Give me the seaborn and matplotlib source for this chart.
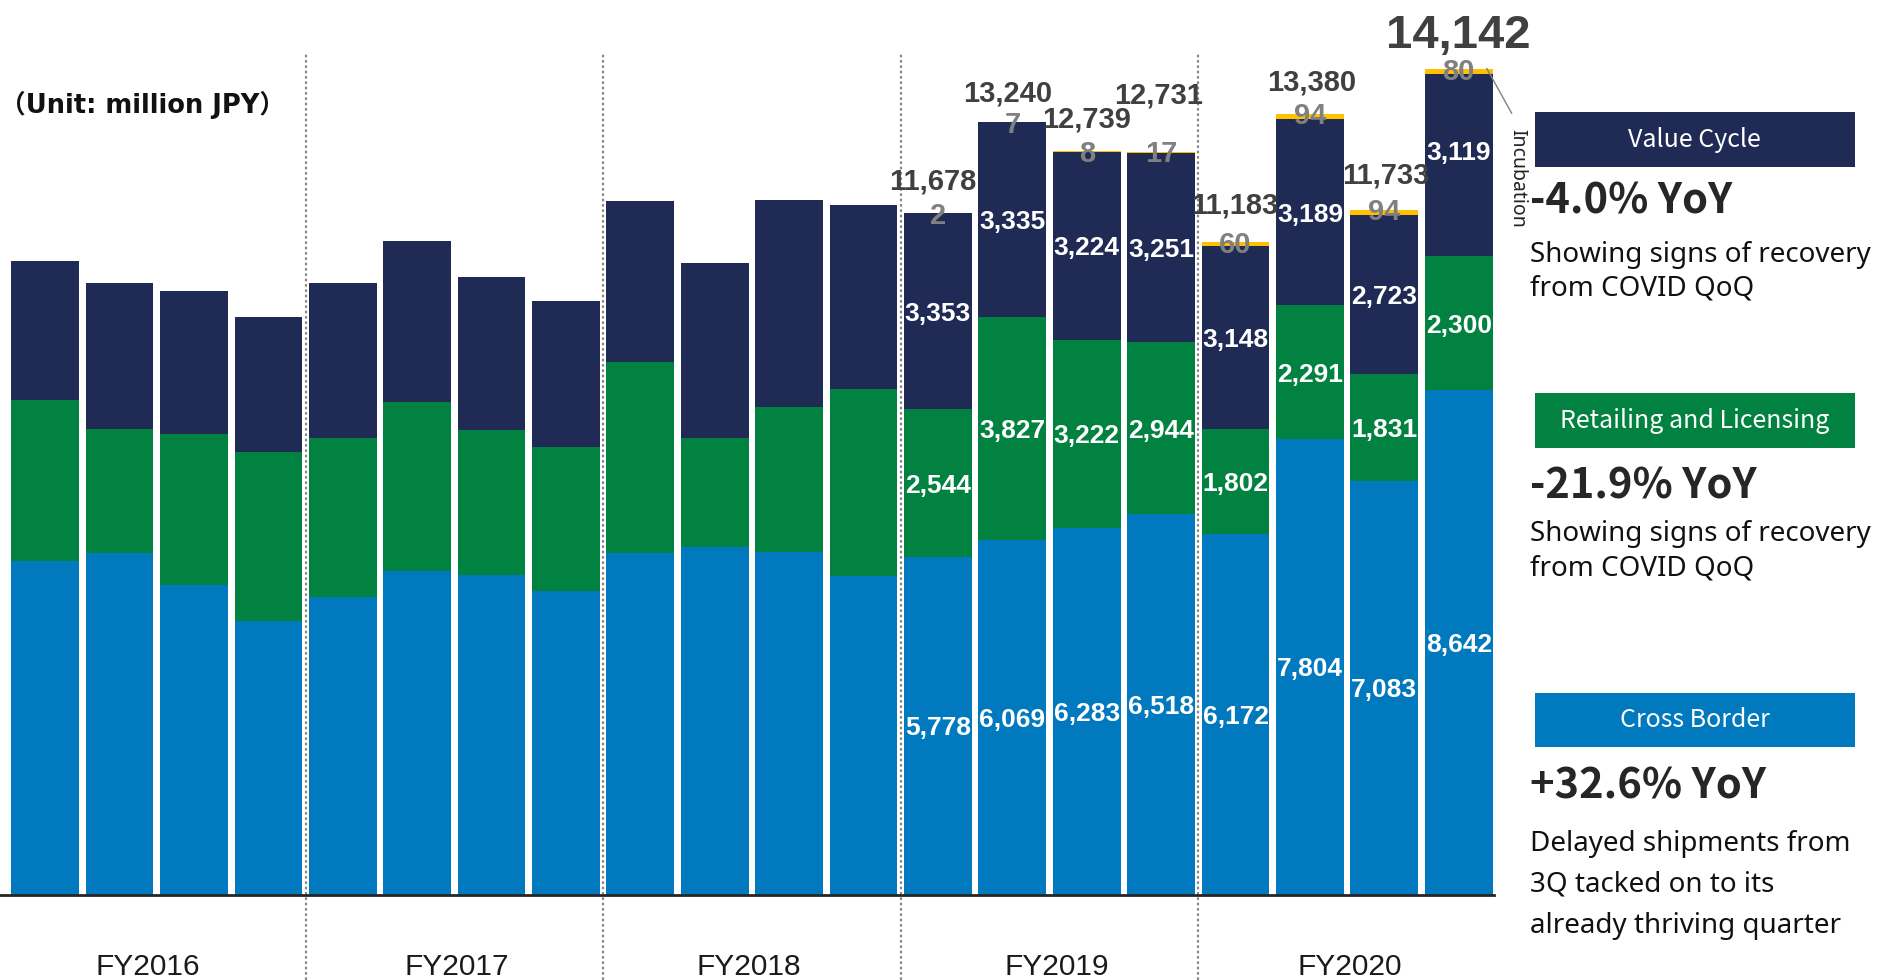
import numpy as np
import pandas as pd
import matplotlib
matplotlib.use("Agg")
import matplotlib.pyplot as plt
import seaborn as sns
from matplotlib.patches import Rectangle
from matplotlib.lines import Line2D
from matplotlib.transforms import Affine2D, ScaledTranslation

# ---------------- data ----------------
fiscal_years = ["FY2016", "FY2017", "FY2018", "FY2019", "FY2020"]
quarters = ["FY2016 Q1", "FY2016 Q2", "FY2016 Q3", "FY2016 Q4",
            "FY2017 Q1", "FY2017 Q2", "FY2017 Q3", "FY2017 Q4",
            "FY2018 Q1", "FY2018 Q2", "FY2018 Q3", "FY2018 Q4",
            "FY2019 Q1", "FY2019 Q2", "FY2019 Q3", "FY2019 Q4",
            "FY2020 Q1", "FY2020 Q2", "FY2020 Q3", "FY2020 Q4"]
cross_border = [5724, 5856, 5308, 4691, 5107, 5541, 5479, 5205, 5861, 5959,
                5878, 5455, 5778, 6069, 6283, 6518, 6172, 7804, 7083, 8642]
retailing = [2754, 2125, 2588, 2884, 2713, 2908, 2485, 2468, 3273, 1856,
             2480, 3212, 2544, 3827, 3222, 2944, 1802, 2291, 1831, 2300]
value_cycle = [2382, 2502, 2439, 2326, 2668, 2747, 2617, 2497, 2747, 3004,
               3536, 3153, 3353, 3335, 3224, 3251, 3148, 3189, 2723, 3119]
incubation = [0, 0, 0, 0, 0, 0, 0, 0, 3, 0,
              0, 3, 2, 7, 8, 17, 60, 94, 94, 80]
labelled_quarters = ["FY2019 Q1", "FY2019 Q2", "FY2019 Q3", "FY2019 Q4",
                     "FY2020 Q1", "FY2020 Q2", "FY2020 Q3", "FY2020 Q4"]
total_labels = ["11,678", "13,240", "12,739", "12,731",
                "11,183", "13,380", "11,733", "14,142"]
segment_names = ["Cross Border", "Retailing and Licensing", "Value Cycle", "Incubation"]
panel_segments = ["Value Cycle", "Retailing and Licensing", "Cross Border"]
panel_yoy = ["-4.0% YoY", "-21.9% YoY", "+32.6% YoY"]
panel_comments = [["Showing signs of recovery", "from COVID QoQ"],
                  ["Showing signs of recovery", "from COVID QoQ"],
                  ["Delayed shipments from", "3Q tacked on to its", "already thriving quarter"]]
unit_label = "（Unit: million JPY）"

# ---------------- style ----------------
colors = {"Cross Border": "#0079BE", "Retailing and Licensing": "#028240",
          "Value Cycle": "#1F2B55", "Incubation": "#FFC000"}
sns.set_theme(style="white")
plt.rcParams["font.family"] = ["Liberation Sans", "DejaVu Sans"]
CJK = ["Noto Sans CJK JP", "DejaVu Sans"]
LAT = ["Noto Sans", "DejaVu Sans"]

W, H = 1886, 980
fig = plt.figure(figsize=(W / 100, H / 100), dpi=100)
pix = Affine2D().scale(1 / W, -1 / H).translate(0, 1) + fig.transFigure

base_px = 894.5
px_per_unit = 0.05835
ax = fig.add_axes([0, (H - base_px) / H, 1494 / W, base_px / H])
ax.patch.set_alpha(0)

layers = [cross_border, retailing, value_cycle, incubation]
n = len(quarters)
bottom = np.zeros(n)
bottoms = []
for name, vals in zip(segment_names, layers):
    bottoms.append(bottom.copy())
    sns.barplot(x=quarters, y=vals, order=quarters, bottom=bottom,
                color=colors[name], saturation=1, width=0.91,
                errorbar=None, linewidth=0, ax=ax)
    bottom = bottom + np.array(vals, dtype=float)
totals = bottom

ax.set_xlim(-0.607, 19.474)
ax.set_ylim(0, base_px / px_per_unit)
ax.set_xticks([])
ax.set_yticks([])
ax.set_xlabel("")
ax.set_ylabel("")
for s in ["top", "right", "left"]:
    ax.spines[s].set_visible(False)
ax.spines["bottom"].set_color("#262626")
ax.spines["bottom"].set_linewidth(2)
ax.spines["bottom"].set_zorder(5)

# dotted separators between fiscal years
ax.vlines([3.5, 7.5, 11.5, 15.5], ymin=-(H - base_px) / base_px,
          ymax=(base_px - 54) / base_px, transform=ax.get_xaxis_transform(),
          colors="#8a8a8a", linestyles=(0, (1.2, 1.2)), linewidth=1.6,
          clip_on=False)

# fiscal-year labels (pixel centres as in the reference)
fy_x = [148, 457, 749, 1057, 1350]
for k, fy in enumerate(fiscal_years):
    fig.text(fy_x[k], 975, fy, transform=pix, ha="center", va="baseline",
             fontsize=21.5, color="#1a1a1a")


def off(dx, dy):
    return ax.transData + ScaledTranslation(dx / 100, dy / 100, fig.dpi_scale_trans)


# segment value labels
vc_dy = [0, 0, 0, 0, 0, 0, 0, 15]
tot_dx = [-5.5, -5, 0, -2.7, -0.6, 2, 1, 0]
tot_dy = [24, 20.3, 23.5, 48.3, 28.5, 23.5, 26.5, 21.5]
for j, q in enumerate(labelled_quarters):
    i = quarters.index(q)
    for li, vals in enumerate(layers[:3]):
        v = vals[i]
        y = bottoms[li][i] + v / 2
        dy = -9.5 + (vc_dy[j] if li == 2 else 0)
        ax.text(i, y, f"{v:,}", transform=off(0, dy), ha="center", va="baseline",
                color="white", fontsize=19, fontweight="bold", zorder=6)
    ax.text(i, totals[i], f"{incubation[i]:,}", transform=off(0, -10.5),
            ha="center", va="baseline", color="#808080", fontsize=21,
            fontweight="bold", zorder=6)
    big = j == len(labelled_quarters) - 1
    ax.text(i, totals[i], total_labels[j], transform=off(tot_dx[j], tot_dy[j]),
            ha="center", va="baseline", color="#404040",
            fontsize=34 if big else 21, fontweight="bold", zorder=6)

# incubation leader + label
fig.add_artist(Line2D([1486.7, 1511.7], [68.3, 113.3], transform=pix,
                      color="#808080", lw=1))
fig.text(1517, 129.3, "Incubation", rotation=270, ha="center", va="top",
         transform=pix, fontsize=14, family=LAT, color="#222222")

# unit label
fig.text(0, 113, unit_label, transform=pix, ha="left", va="baseline",
         fontsize=18.5, fontweight="bold", family=["DejaVu Sans", "Noto Sans CJK JP"],
         color="#111111")

# right panel
box_tops = [112.3, 393.3, 692.8]
yoy_base = [213.3, 498.3, 798.0]
comment_base = [[261.7, 295.0], [541.0, 575.0], [850.7, 891.7, 933.0]]
for b, seg in enumerate(panel_segments):
    fig.add_artist(Rectangle((1534.5, box_tops[b]), 320, 54.5, transform=pix,
                             facecolor=colors[seg], edgecolor="none"))
    fig.text(1694.5, box_tops[b] + 27.5, seg, transform=pix, ha="center",
             va="center", color="white", fontsize=18, family=CJK)
    fig.text(1530, yoy_base[b], panel_yoy[b], transform=pix, ha="left",
             va="baseline", color="#262626", fontsize=30, fontweight="bold",
             family=CJK)
    for line, yb in zip(panel_comments[b], comment_base[b]):
        fig.text(1530, yb, line, transform=pix, ha="left", va="baseline",
                 color="#111111", fontsize=20, family=LAT)

fig.savefig("out.png", dpi=100)
